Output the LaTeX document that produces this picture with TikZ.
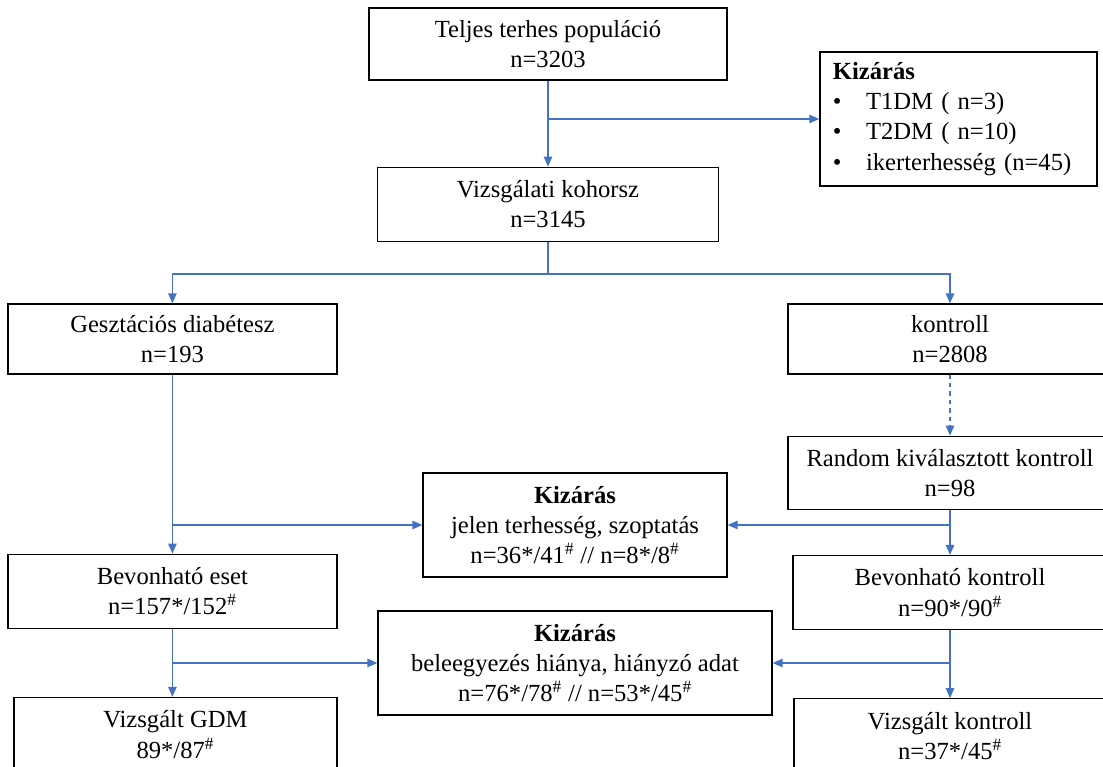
\documentclass[tikz,border=0pt]{standalone}
\usepackage{fontspec}
\setmainfont{Liberation Serif}
\usetikzlibrary{arrows.meta,positioning,calc}
\definecolor{flowblue}{RGB}{68,114,196}
\tikzset{
    flowbox/.style={draw, line width=0.9pt, align=center, inner sep=2pt, font=\fontsize{17.5}{21.5}\selectfont, minimum height=1.85cm},
    flowexcl/.style={flowbox, minimum height=2.6cm},
    flowarrow/.style={-{Triangle[length=2.5mm,width=2.1mm]}, draw=flowblue, line width=1pt},
    flowline/.style={draw=flowblue, line width=1pt}
}
\newcommand{\hashsup}{\textsuperscript{\#}}
\newcommand{\bulletitem}[1]{\makebox[1.35em][l]{\textbullet}#1}

\begin{document}
\begin{tikzpicture}[node distance=6mm and 7mm]
        \useasboundingbox (0,0) rectangle (27.575,19.175);
        \node[flowbox, minimum width=8.95cm, minimum height=1.8cm] (total) at (13.7,18.075) {Teljes terhes populáció\\n=3203};
        \node[flowbox, minimum width=6.925cm, minimum height=3.35cm, align=left, text width=6.275cm] (exclA) at (23.96,16.2) {\textbf{Kizárás}\\\bulletitem{T1DM ( n=3)}\\\bulletitem{T2DM ( n=10)}\\\bulletitem{ikerterhesség (n=45)}};
        \node[flowbox, minimum width=8.525cm, below=2.15cm of total] (cohort) {Vizsgálati kohorsz\\n=3145};
        \node[flowbox, minimum width=8.225cm, minimum height=1.75cm] (gdm) at (4.31,10.7) {Gesztációs diabétesz\\n=193};
        \node[flowbox, minimum width=8.1cm, minimum height=1.75cm] (ctrl) at (23.75,10.7) {kontroll\\n=2808};
        \node[flowbox, minimum width=8.1cm, minimum height=1.825cm, below=1.525cm of ctrl] (random) {Random kiválasztott kontroll\\n=98};
        \node[flowexcl, minimum width=7.6cm] (exclB) at (14.375,6.05) {\textbf{Kizárás}\\jelen terhesség, szoptatás\\n=36*/41\hashsup{} // n=8*/8\hashsup};
        \node[flowbox, minimum width=8.225cm, below=4.475cm of gdm] (gdmok) {Bevonható eset\\n=157*/152\hashsup};
        \node[flowbox, minimum width=7.85cm, below=1.125cm of random] (ctrlok) {Bevonható kontroll\\n=90*/90\hashsup};
        \node[flowexcl, minimum width=9.85cm] (exclC) at (14.375,2.6) {\textbf{Kizárás}\\beleegyezés hiánya, hiányzó adat\\n=76*/78\hashsup{} // n=53*/45\hashsup};
        \node[flowbox, minimum width=8.075cm, below=1.7cm of gdmok, xshift=0.075cm] (gdmfinal) {Vizsgált GDM\\89*/87\hashsup};
        \node[flowbox, minimum width=7.8cm, below=1.7cm of ctrlok] (ctrlfinal) {Vizsgált kontroll\\n=37*/45\hashsup};
        \draw[flowarrow] (total) -- (cohort);
        \draw[flowarrow] (total.south |- exclA.west) -- (exclA.west);
        \coordinate (split) at ($(cohort.south)+(0,-0.8)$);
        \draw[flowline] (cohort.south) -- (split);
        \draw[flowarrow] (split) -| (gdm.north);
        \draw[flowarrow] (split) -| (ctrl.north);
        \draw[flowarrow, dashed] (ctrl) -- (random);
        \draw[flowarrow] (gdm) -- (gdmok);
        \draw[flowarrow] (gdm.south |- exclB.west) -- (exclB.west);
        \draw[flowarrow] (random) -- (ctrlok);
        \draw[flowarrow] (random.south |- exclB.east) -- (exclB.east);
        \draw[flowarrow] (gdmok.south) -- (gdmok.south |- gdmfinal.north);
        \draw[flowarrow] (gdmok.south |- exclC.west) -- (exclC.west);
        \draw[flowarrow] (ctrlok) -- (ctrlfinal);
        \draw[flowarrow] (ctrlok.south |- exclC.east) -- (exclC.east);
    \end{tikzpicture}
\end{document}
